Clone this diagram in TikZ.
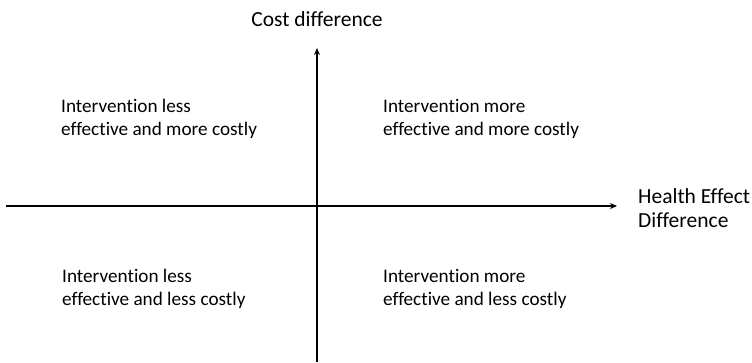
\documentclass[tikz,border=0pt]{standalone}
\usepackage{fontspec}
\setmainfont[Ligatures=NoCommon]{Carlito}
\usetikzlibrary{arrows.meta}
\begin{document}
\begin{tikzpicture}[x=1pt,y=1pt,
  lbl/.style={inner sep=0pt, align=left, anchor=base west, font=\fontsize{19.2}{23}\selectfont},
  big/.style={inner sep=0pt, align=left, anchor=base west, font=\fontsize{21.5}{24}\selectfont},
  axis/.style={line width=1.6pt, -{Stealth[length=7pt,width=6pt]}}]
\useasboundingbox (0,0) rectangle (752,362);
\coordinate (hl) at (6,156);
\coordinate (hr) at (617,156);
\coordinate (vb) at (317,0);
\coordinate (vt) at (317,314);
\draw[axis] (hl) -- (hr);
\draw[axis] (vb) -- (vt);
\node[big, anchor=base] (ylab) at (317,335) {Cost difference};
\node[big] (xlab) at (638,135) {Health Effect\\Difference};
\node[lbl] (q2) at (61,226) {Intervention less\\effective and more costly};
\node[lbl] (q1) at (383,226) {Intervention more\\effective and more costly};
\node[lbl] (q3) at (62,57) {Intervention less\\effective and less costly};
\node[lbl] (q4) at (383,57) {Intervention more\\effective and less costly};
\end{tikzpicture}
\end{document}
